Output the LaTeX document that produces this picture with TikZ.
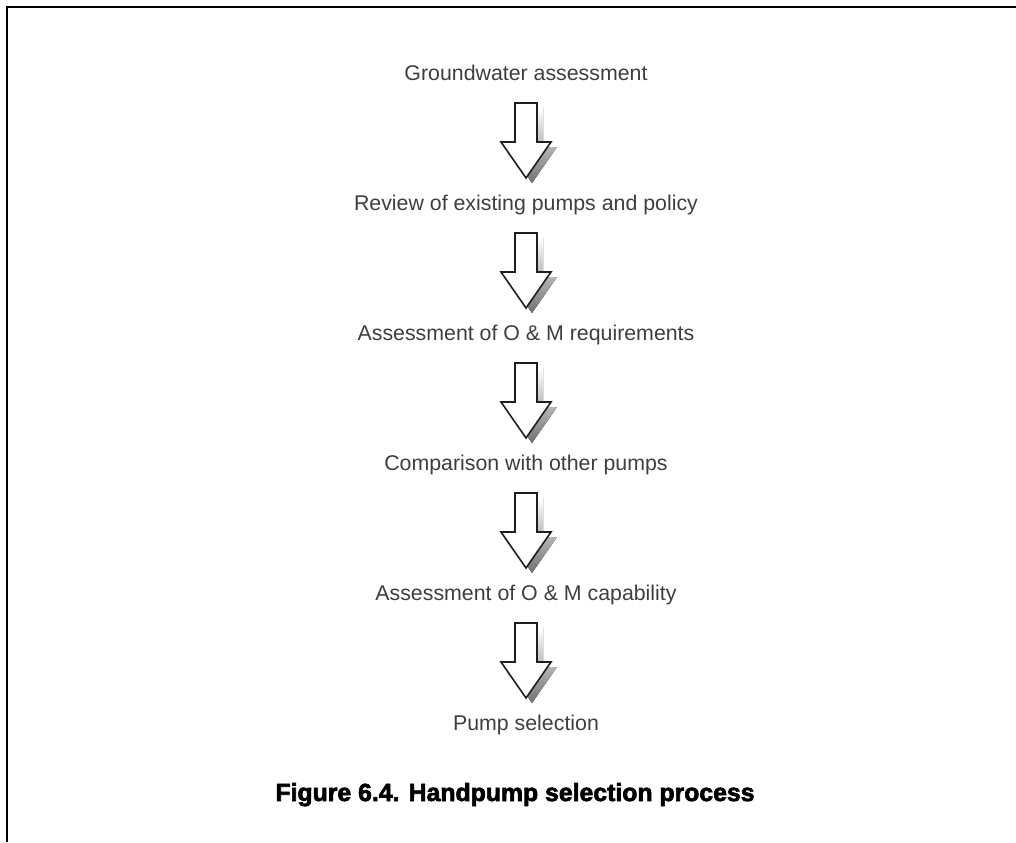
\documentclass[tikz,border=0pt]{standalone}
\usepackage{fontspec}
\setmainfont{Liberation Sans}
\newfontfamily\capfont[BoldFeatures={FakeBold=2.6}]{Liberation Sans}
\definecolor{textgrey}{RGB}{62,62,62}
\definecolor{arrowline}{RGB}{30,30,30}
\tikzset{
  lbl/.style={anchor=base, text=textgrey, inner sep=0pt, font=\fontsize{16}{19}\selectfont},
  caption/.style={anchor=base, text=black, inner sep=0pt, font=\capfont\bfseries\fontsize{18.6}{22}\selectfont},
  frame/.style={line width=1.5pt, black},
  flowarrow/.pic={
    \fill[top color=white, bottom color=black!56]
      (-5,5) -- (17,5) -- (17,44) -- (31,44) -- (6,80) -- (-19,44) -- (-5,44) -- cycle;
    \filldraw[fill=white, draw=arrowline, line width=1.2pt, line join=miter]
      (-11,0) -- (11,0) -- (11,39) -- (25,39) -- (0,75) -- (-25,39) -- (-11,39) -- cycle;
  }
}
\begin{document}
\begin{tikzpicture}[x=0.75pt,y=-0.75pt]
\useasboundingbox (0,0) rectangle (1016,842);
\draw[frame] (7,842) -- (7,7) -- (1016,7);

\node[lbl] (t1) at (526,80.5) {Groundwater assessment};
\node[lbl] (t2) at (526,210.5) {Review of existing pumps and policy};
\node[lbl] (t3) at (526,340.5) {Assessment of O \& M requirements};
\node[lbl] (t4) at (526,470.5) {Comparison with other pumps};
\node[lbl] (t5) at (526,600.5) {Assessment of O \& M capability};
\node[lbl] (t6) at (526,730.5) {Pump selection};

\foreach \n in {t1,t2,t3,t4,t5}{
  \path (\n.base) ++(0,22.5) pic{flowarrow};
}

\node[caption] (cap) at (515,801) {Figure 6.4. Handpump selection process};
\end{tikzpicture}
\end{document}
